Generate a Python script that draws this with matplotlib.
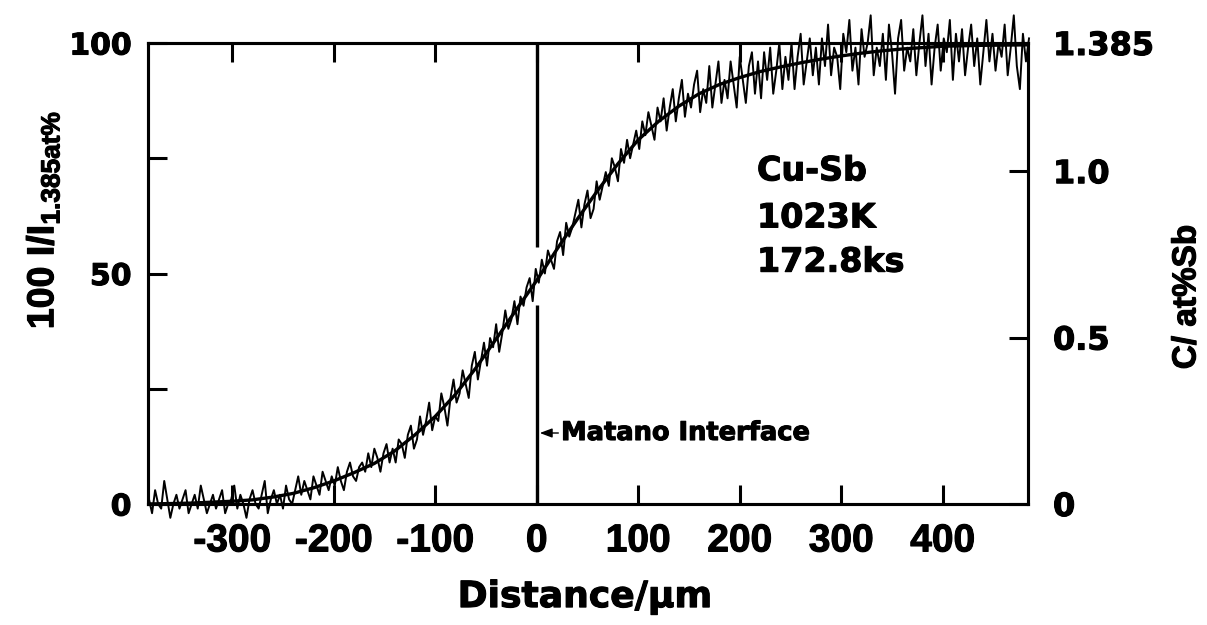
import numpy as np
import matplotlib
matplotlib.use("Agg")
import matplotlib.pyplot as plt
import matplotlib.patheffects as pe

plt.rcParams['mathtext.fontset'] = 'custom'
plt.rcParams['mathtext.rm'] = 'Liberation Sans:bold'
plt.rcParams['mathtext.bf'] = 'Liberation Sans:bold'
plt.rcParams['axes.unicode_minus'] = False

# ---- data ----
# measured (noisy) profile: sampled every 3 um starting at -382 um
scan_start_um = -382
scan_step_um = 3
scan_intensity = [
    1, -2, 3, 0, -1, 5, 1, -3, 0, 2,
    -1, 1, 3, -2, 0, 2, -1, 4, 1, -2,
    0, 2, -1, 1, 3, -2, 0, 1, 4, -1,
    2, 0, -3, 1, 3, 0, -1, 2, 5, -2,
    1, 3, 0, 2, -1, 4, 1, 0, 3, 6,
    2, 5, 3, 1, 6, 4, 2, 7, 5, 3,
    6, 4, 8, 5, 3, 7, 9, 6, 5, 8,
    9, 7, 11, 8, 12, 10, 7, 11, 13, 9,
    12, 9, 14, 13, 10, 15, 17, 12, 14, 19,
    15, 18, 22, 16, 19, 18, 24, 21, 17, 23,
    27, 22, 24, 29, 26, 23, 30, 33, 27, 31,
    35, 30, 36, 34, 39, 33, 37, 42, 38, 40,
    44, 39, 45, 43, 47, 49, 44, 51, 48, 53,
    50, 55, 53, 51, 57, 59, 54, 61, 58, 60,
    63, 66, 60, 65, 68, 62, 64, 70, 66, 69,
    72, 69, 75, 73, 70, 77, 74, 79, 75, 78,
    81, 77, 83, 80, 85, 82, 79, 86, 83, 88,
    81, 86, 90, 83, 88, 92, 84, 89, 86, 91,
    94, 85, 90, 87, 95, 86, 91, 96, 87, 92,
    88, 96, 91, 86, 97, 92, 87, 95, 98, 89,
    96, 88, 98, 92, 99, 89, 94, 100, 90, 97,
    92, 100, 90, 97, 102, 91, 96, 101, 93, 99,
    91, 101, 95, 104, 93, 99, 97, 90, 102, 98,
    105, 94, 99, 91, 103, 97, 100, 106, 93, 99,
    95, 102, 92, 104, 98, 89, 101, 105, 94, 99,
    96, 103, 93, 100, 106, 95, 102, 91, 99, 104,
    94, 101, 98, 105, 92, 102, 96, 103, 93, 99,
    104, 95, 101, 91, 98, 105, 96, 102, 94, 100,
    97, 104, 93, 99, 106, 95, 90, 102, 96, 101,
]

# fitted (smooth) profile
fit_distance = [-383, -360, -340, -320, -300, -280, -260, -240, -220, -200,
                -180, -160, -140, -120, -100, -80, -60, -40, -20, 0,
                20, 40, 60, 80, 100, 120, 140, 160, 180, 200,
                220, 240, 260, 280, 300, 320, 340, 360, 380, 400, 440, 484]
fit_intensity = [0.0, 0.1, 0.2, 0.4, 0.6, 0.9, 1.5, 2.3, 3.5, 5.0,
                 6.8, 8.8, 11.5, 15.0, 19.0, 23.8, 29.5, 35.8, 42.2, 48.5,
                 55.3, 61.8, 68.0, 73.8, 79.0, 83.0, 86.3, 89.0, 91.0, 92.5,
                 93.8, 94.8, 95.7, 96.5, 97.2, 97.8, 98.3, 98.7, 99.0, 99.3, 99.5, 99.6]

matano_position = 0
matano_upper = (55.7, 100)
matano_lower = (0, 43.2)

x_ticks = [-300, -200, -100, 0, 100, 200, 300, 400]
x_tick_labels = ["-300", "-200", "-100", "0", "100", "200", "300", "400"]
left_ticks = [0, 50, 100]
left_tick_labels = ["0", "50", "100"]
left_minor_ticks = [25, 75]
right_ticks = [0, 0.5, 1.0, 1.385]
right_tick_labels = ["0", "0.5", "1.0", "1.385"]
c_max = 1.385
info_lines = ["Cu-Sb", "1023K", "172.8ks"]

# ---- figure ----
fig = plt.figure(figsize=(12.07, 6.25), dpi=100)
ax = fig.add_axes([148/1207, 1-504/625, 880/1207, 461/625])

heavy = [pe.withStroke(linewidth=0.8, foreground='black')]

scan_x = scan_start_um + scan_step_um * np.arange(len(scan_intensity))
ax.plot(scan_x, scan_intensity, color='black', lw=1.4, clip_on=False, zorder=3)
ax.plot(fit_distance, fit_intensity, color='black', lw=2.4, zorder=4)

ax.vlines([matano_position, matano_position],
          [matano_upper[0], matano_lower[0]],
          [matano_upper[1], matano_lower[1]], color='black', lw=2.4, zorder=5)

ax.set_xlim(-383, 484)
ax.set_ylim(0, 100)

xtick_font = dict(family='Liberation Sans', weight='bold', size=28)
ytick_font = dict(family='DejaVu Sans', weight='bold', size=21.5)
rtick_font = dict(family='DejaVu Sans', weight='bold', size=23)

ax.set_xticks(x_ticks)
ax.set_xticklabels(x_tick_labels, fontdict=xtick_font)
ax.set_yticks(left_ticks)
ax.set_yticklabels(left_tick_labels, fontdict=ytick_font)
ax.set_yticks(left_minor_ticks, minor=True)
ax.tick_params(axis='both', which='both', direction='in', length=14, width=2.2,
               top=True, color='black')
ax.tick_params(axis='x', pad=14)
ax.tick_params(axis='y', pad=12)

for s in ax.spines.values():
    s.set_linewidth(2.2)

ax2 = ax.twinx()
ax2.set_ylim(0, c_max)
ax2.set_yticks(right_ticks)
ax2.set_yticklabels(right_tick_labels, fontdict=rtick_font)
ax2.tick_params(axis='y', direction='in', length=14, width=2.2, pad=18)
for s in ax2.spines.values():
    s.set_linewidth(2.2)

ax.set_xlabel("Distance/\u03bcm", family='DejaVu Sans', weight='bold', size=26)
ax.xaxis.set_label_coords(0.4966, -0.165)

ax.set_ylabel(r"100 I/I$_{\mathrm{1.385at\%}}$", family='Liberation Sans', weight='bold', size=27)
ax.yaxis.set_label_coords(-0.098, 0.616)

ax2.set_ylabel("C/ at%Sb", family='Liberation Sans', weight='bold', size=24)
ax2.yaxis.set_label_coords(1.163, 0.449)

baselines = [70.2, 60.0, 50.4]
for line, yb in zip(info_lines, baselines):
    ax.text(217, yb, line, family='DejaVu Sans', weight='bold', size=24,
            ha='left', va='baseline', zorder=6, path_effects=heavy)

ax.annotate("Matano Interface", xy=(3, 15.4), xytext=(24, 15.4),
            family='DejaVu Sans', weight='bold', size=18.5, va='center', ha='left',
            path_effects=heavy,
            arrowprops=dict(arrowstyle='-|>,head_length=0.4,head_width=0.15',
                            lw=1.0, color='black', shrinkA=0, shrinkB=0))

for t in (ax.get_xticklabels() + ax.get_yticklabels() + ax2.get_yticklabels()
          + [ax.xaxis.label, ax.yaxis.label, ax2.yaxis.label]):
    t.set_path_effects(heavy)

fig.savefig("out.png", dpi=100)
